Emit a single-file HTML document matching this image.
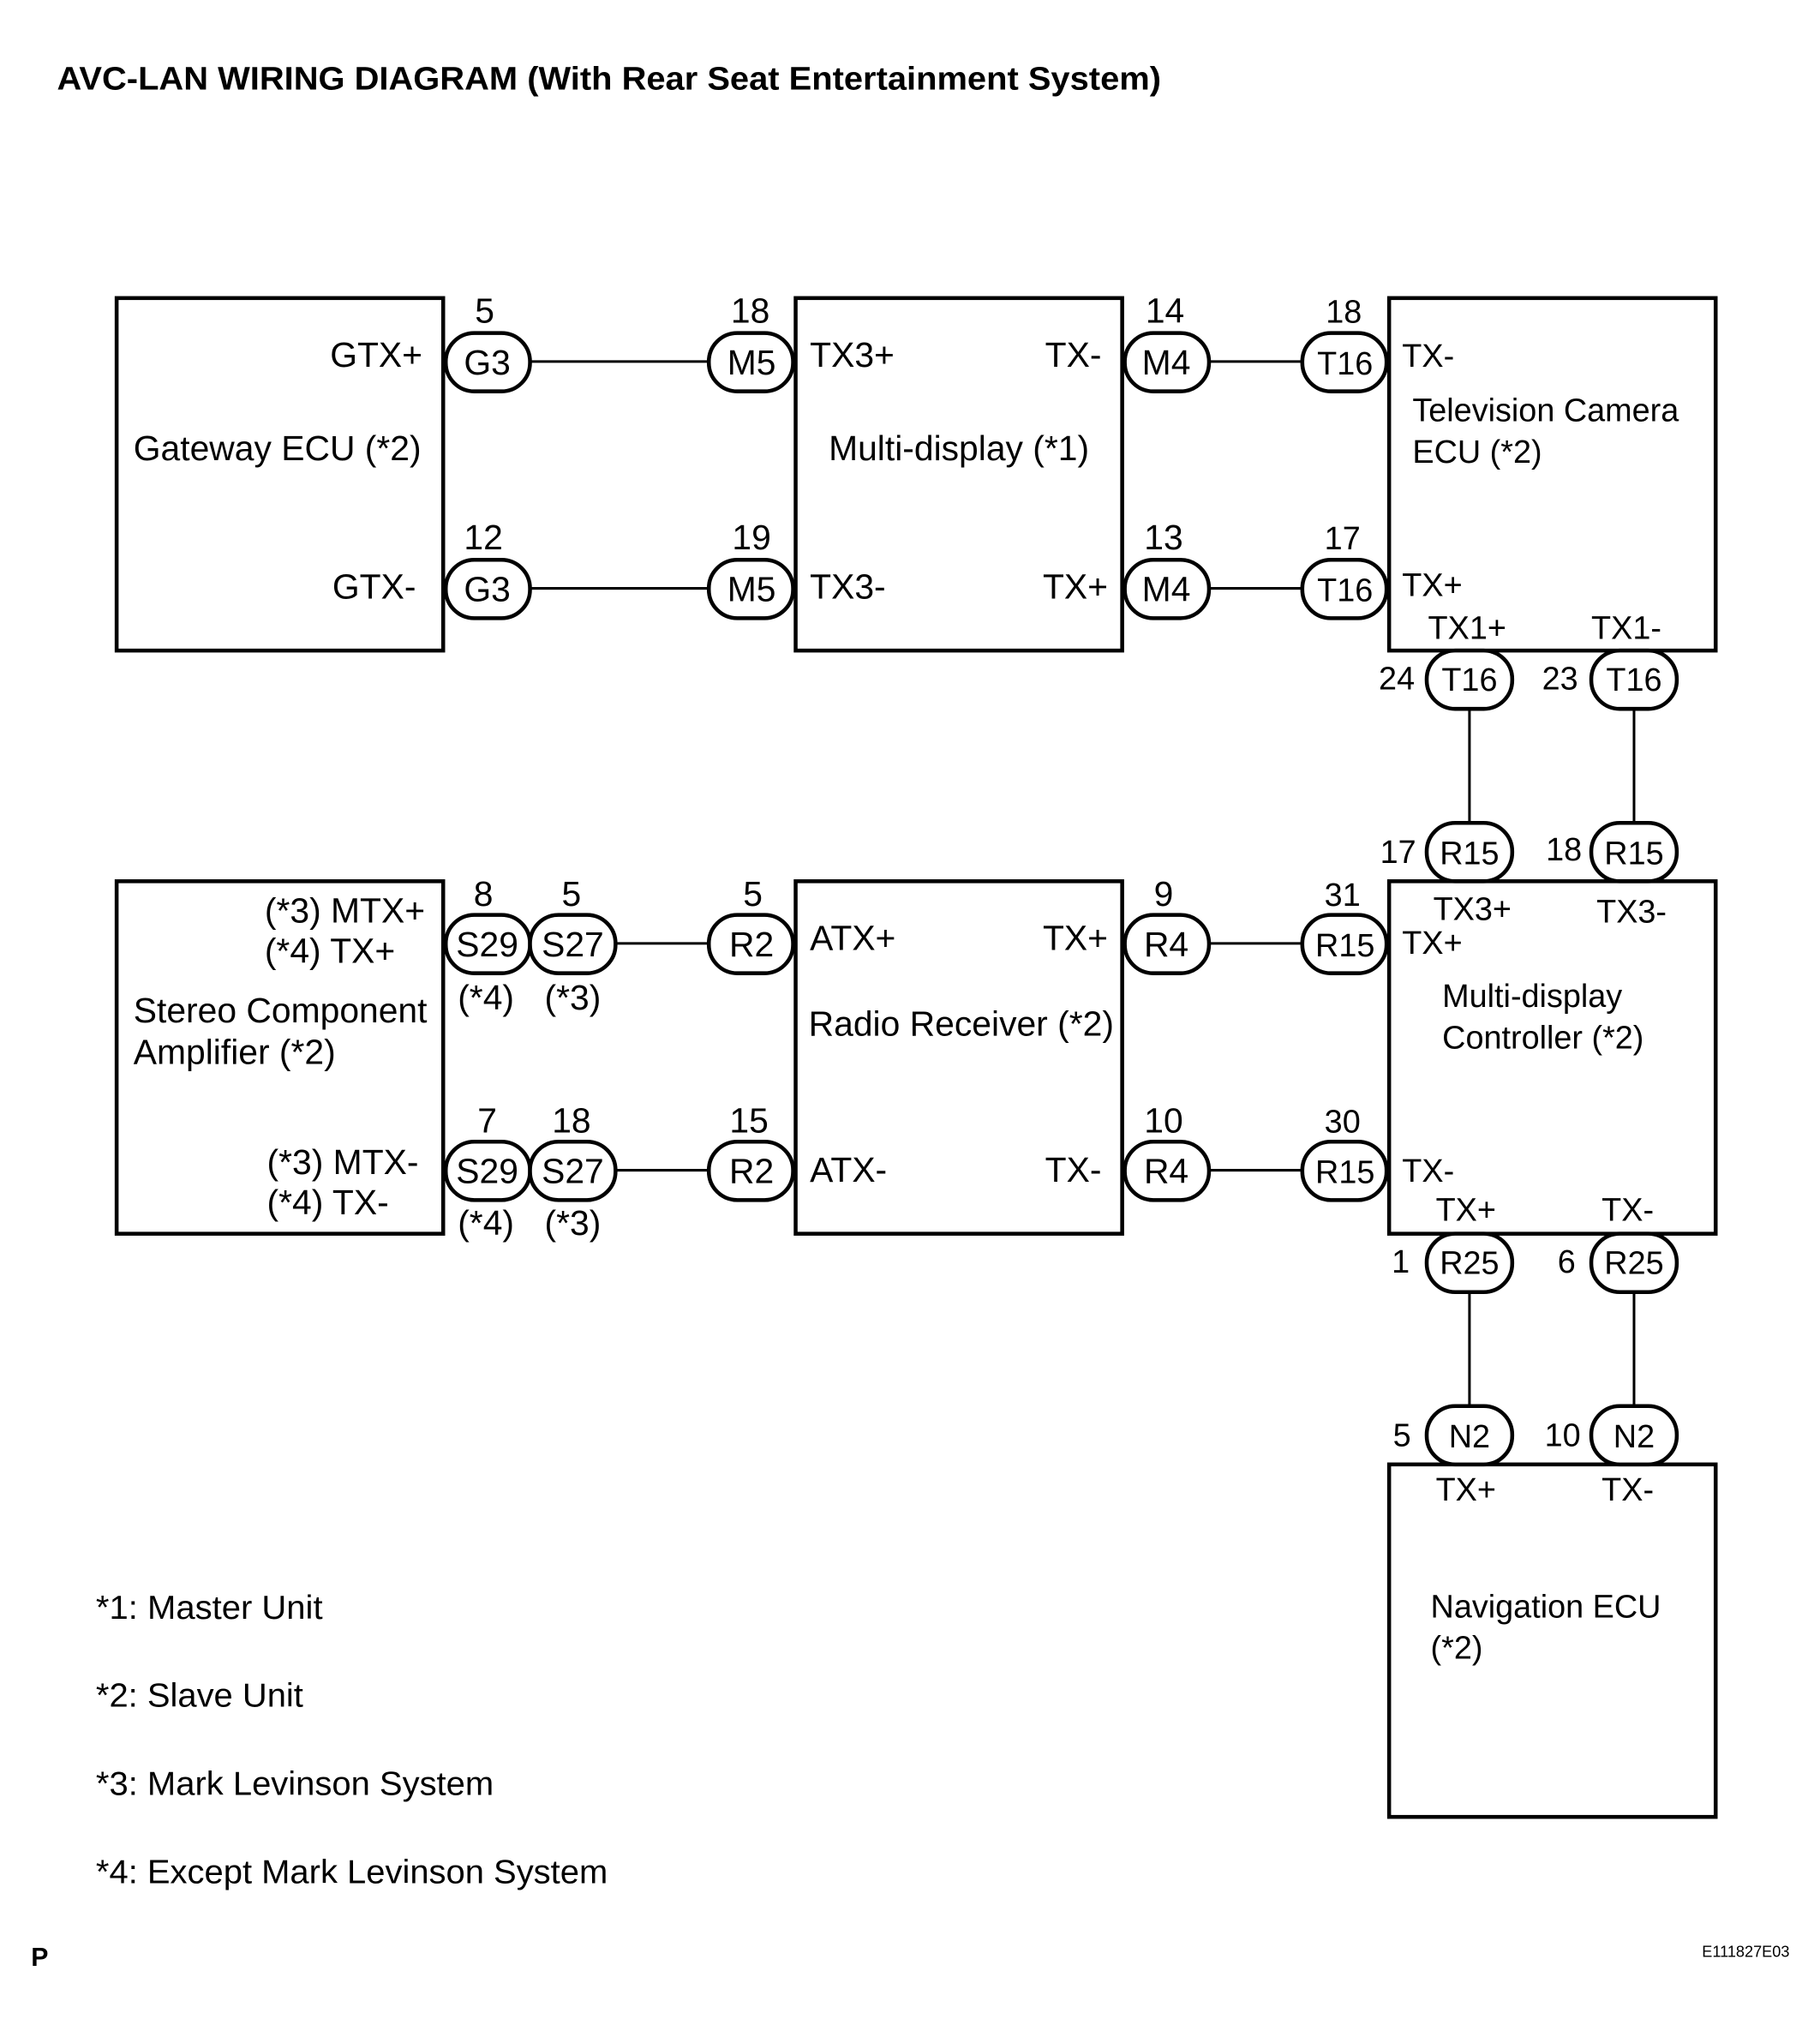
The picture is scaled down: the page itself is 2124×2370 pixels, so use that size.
<!DOCTYPE html>
<html><head><meta charset="utf-8"><style>
html,body{margin:0;padding:0;background:#fff}
svg{display:block}
text{font-family:"Liberation Sans",sans-serif;fill:#000}
.n{font-family:"Liberation Sans Narrow","Liberation Sans",sans-serif;font-size:27px}
.w{font-size:25px}
.f{font-size:26px}
</style></head><body>
<svg width="2124" height="2370" viewBox="0 0 1404.5 1567.2" xmlns="http://www.w3.org/2000/svg">
<g fill="none" stroke="#000" stroke-width="3">
<rect x="90" y="230" width="252" height="272"/>
<rect x="614" y="230" width="252" height="272"/>
<rect x="1072" y="230" width="252" height="272"/>
<rect x="90" y="680" width="252" height="272"/>
<rect x="614" y="680" width="252" height="272"/>
<rect x="1072" y="680" width="252" height="272"/>
<rect x="1072" y="1130" width="252" height="272"/>
</g>
<g fill="#fff" stroke="#000" stroke-width="3">
<rect x="344" y="257" width="65" height="45" rx="22"/>
<rect x="547" y="257" width="65" height="45" rx="22"/>
<rect x="868" y="257" width="65" height="45" rx="22"/>
<rect x="1005" y="257" width="65" height="45" rx="22"/>
<rect x="344" y="432" width="65" height="45" rx="22"/>
<rect x="547" y="432" width="65" height="45" rx="22"/>
<rect x="868" y="432" width="65" height="45" rx="22"/>
<rect x="1005" y="432" width="65" height="45" rx="22"/>
<rect x="1101" y="502" width="66" height="45" rx="22"/>
<rect x="1228" y="502" width="66" height="45" rx="22"/>
<rect x="1101" y="635" width="66" height="45" rx="22"/>
<rect x="1228" y="635" width="66" height="45" rx="22"/>
<rect x="1101" y="952" width="66" height="45" rx="22"/>
<rect x="1228" y="952" width="66" height="45" rx="22"/>
<rect x="1101" y="1085" width="66" height="45" rx="22"/>
<rect x="1228" y="1085" width="66" height="45" rx="22"/>
<rect x="344" y="706" width="65" height="45" rx="22"/>
<rect x="409" y="706" width="66" height="45" rx="22"/>
<rect x="547" y="706" width="65" height="45" rx="22"/>
<rect x="868" y="706" width="65" height="45" rx="22"/>
<rect x="1005" y="706" width="65" height="45" rx="22"/>
<rect x="344" y="881" width="65" height="45" rx="22"/>
<rect x="409" y="881" width="66" height="45" rx="22"/>
<rect x="547" y="881" width="65" height="45" rx="22"/>
<rect x="868" y="881" width="65" height="45" rx="22"/>
<rect x="1005" y="881" width="65" height="45" rx="22"/>
</g>
<g stroke="#000" stroke-width="2">
<line x1="409" y1="279" x2="547" y2="279"/><line x1="933" y1="279" x2="1005" y2="279"/>
<line x1="409" y1="454" x2="547" y2="454"/><line x1="933" y1="454" x2="1005" y2="454"/>
<line x1="475" y1="728" x2="547" y2="728"/><line x1="933" y1="728" x2="1005" y2="728"/>
<line x1="475" y1="903" x2="547" y2="903"/><line x1="933" y1="903" x2="1005" y2="903"/>
<line x1="1134" y1="547" x2="1134" y2="635"/><line x1="1261" y1="547" x2="1261" y2="635"/>
<line x1="1134" y1="997" x2="1134" y2="1085"/><line x1="1261" y1="997" x2="1261" y2="1085"/>
</g>
<text x="44" y="69" textLength="852" lengthAdjust="spacingAndGlyphs" style="font-weight:bold;font-size:25px">AVC-LAN WIRING DIAGRAM (With Rear Seat Entertainment System)</text>
<g class="n" text-anchor="middle">
<text x="376" y="289">G3</text><text x="580" y="289">M5</text><text x="900" y="289">M4</text>
<text x="376" y="464">G3</text><text x="580" y="464">M5</text><text x="900" y="464">M4</text>
<text x="374" y="249">5</text><text x="579" y="249">18</text><text x="899" y="249">14</text>
<text x="373" y="424">12</text><text x="580" y="424">19</text><text x="898" y="424">13</text>
<text x="376" y="738">S29</text><text x="442" y="738">S27</text><text x="580" y="738">R2</text><text x="900" y="738">R4</text>
<text x="376" y="913">S29</text><text x="442" y="913">S27</text><text x="580" y="913">R2</text><text x="900" y="913">R4</text>
<text x="373" y="699">8</text><text x="441" y="699">5</text><text x="581" y="699">5</text><text x="898" y="699">9</text>
<text x="376" y="874">7</text><text x="441" y="874">18</text><text x="578" y="874">15</text><text x="898" y="874">10</text>
<text x="375" y="779">(*4)</text><text x="442" y="779">(*3)</text>
<text x="375" y="953">(*4)</text><text x="442" y="953">(*3)</text>
<text x="740" y="355">Multi-display (*1)</text>
</g>
<g class="n">
<text x="326" y="283" text-anchor="end">GTX+</text>
<text x="321" y="462" text-anchor="end">GTX-</text>
<text x="103" y="355">Gateway ECU (*2)</text>
<text x="625" y="283">TX3+</text><text x="850" y="283" text-anchor="end">TX-</text>
<text x="625" y="462">TX3-</text><text x="855" y="462" text-anchor="end">TX+</text>
<text x="328" y="712" text-anchor="end">(*3) MTX+</text>
<text x="305" y="743" text-anchor="end">(*4) TX+</text>
<text x="103" y="789">Stereo Component</text>
<text x="103" y="821">Amplifier (*2)</text>
<text x="323" y="906" text-anchor="end">(*3) MTX-</text>
<text x="300" y="937" text-anchor="end">(*4) TX-</text>
<text x="625" y="733">ATX+</text><text x="855" y="733" text-anchor="end">TX+</text>
<text x="624" y="799">Radio Receiver (*2)</text>
<text x="625" y="912">ATX-</text><text x="850" y="912" text-anchor="end">TX-</text>
</g>
<g class="w">
<text x="1038" y="289" text-anchor="middle">T16</text>
<text x="1038" y="464" text-anchor="middle">T16</text>
<text x="1037" y="249" text-anchor="middle">18</text>
<text x="1036" y="424" text-anchor="middle">17</text>
<text x="1082" y="283">TX-</text>
<text x="1090" y="325">Television Camera</text>
<text x="1090" y="357">ECU (*2)</text>
<text x="1082" y="460">TX+</text>
<text x="1102" y="493">TX1+</text><text x="1228" y="493">TX1-</text>
<text x="1134" y="533" text-anchor="middle">T16</text><text x="1261" y="533" text-anchor="middle">T16</text>
<text x="1064" y="532">24</text><text x="1190" y="532">23</text>
<text x="1134" y="667" text-anchor="middle">R15</text><text x="1261" y="667" text-anchor="middle">R15</text>
<text x="1065" y="666">17</text><text x="1193" y="664">18</text>
<text x="1038" y="738" text-anchor="middle">R15</text>
<text x="1038" y="913" text-anchor="middle">R15</text>
<text x="1036" y="699" text-anchor="middle">31</text>
<text x="1036" y="874" text-anchor="middle">30</text>
<text x="1106" y="710">TX3+</text><text x="1232" y="712">TX3-</text>
<text x="1082" y="736">TX+</text>
<text x="1113" y="777">Multi-display</text>
<text x="1113" y="809">Controller (*2)</text>
<text x="1082" y="912">TX-</text>
<text x="1108" y="942">TX+</text><text x="1236" y="942">TX-</text>
<text x="1134" y="983" text-anchor="middle">R25</text><text x="1261" y="983" text-anchor="middle">R25</text>
<text x="1074" y="982">1</text><text x="1202" y="982">6</text>
<text x="1134" y="1117" text-anchor="middle">N2</text><text x="1261" y="1117" text-anchor="middle">N2</text>
<text x="1075" y="1116">5</text><text x="1192" y="1116">10</text>
<text x="1108" y="1158">TX+</text><text x="1236" y="1158">TX-</text>
<text x="1104" y="1248">Navigation ECU</text>
<text x="1104" y="1280">(*2)</text>
</g>
<g class="f">
<text x="74" y="1249" textLength="175" lengthAdjust="spacingAndGlyphs">*1: Master Unit</text>
<text x="74" y="1317" textLength="160" lengthAdjust="spacingAndGlyphs">*2: Slave Unit</text>
<text x="74" y="1385" textLength="307" lengthAdjust="spacingAndGlyphs">*3: Mark Levinson System</text>
<text x="74" y="1453" textLength="395" lengthAdjust="spacingAndGlyphs">*4: Except Mark Levinson System</text>
</g>
<text x="24" y="1517" style="font-weight:bold;font-size:20px">P</text>
<text x="1381" y="1510" text-anchor="end" style="font-size:12px">E111827E03</text>
</svg>
</body></html>
